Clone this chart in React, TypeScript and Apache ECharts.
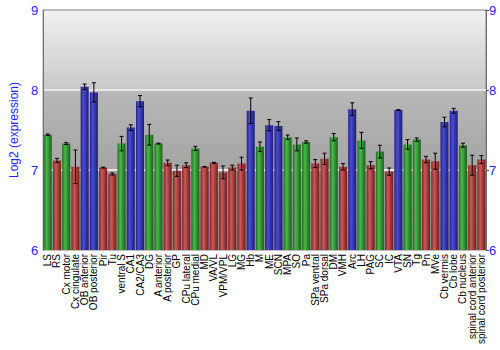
import React, { useEffect, useRef } from "react";
import * as echarts from "echarts";

const categories = [
  "LS", "RS", "Cx motor", "Cx cingulate", "OB anterior", "OB posterior", "Pir", "Tu",
  "ventral S", "CA1", "CA2/CA3", "DG", "A anterior", "A posterior", "GP", "CPu lateral",
  "CPu medial", "MD", "VA/VL", "VPM/VPL", "LG", "MG", "Hb", "M", "ME", "SCN", "MPA",
  "SO", "Pa", "SPa ventral", "SPa dorsal", "DM", "VMH", "Arc", "LH", "PAG", "SC", "IC",
  "VTA", "SN", "Tg", "Pn", "MVe", "Cb vermis", "Cb lobe", "Cb nucleus",
  "spinal cord anterior", "spinal cord posterior",
];

const values = [
  7.44, 7.12, 7.33, 7.04, 8.04, 7.97, 7.03, 6.95,
  7.33, 7.53, 7.86, 7.44, 7.33, 7.09, 6.99, 7.06,
  7.27, 7.04, 7.09, 6.97, 7.03, 7.08, 7.74, 7.29, 7.56, 7.55, 7.41,
  7.32, 7.35, 7.08, 7.14, 7.41, 7.04, 7.76, 7.37, 7.06, 7.23, 6.98,
  7.75, 7.32, 7.38, 7.13, 7.11, 7.60, 7.74, 7.31,
  7.06, 7.13,
];

const errors = [
  0.01, 0.025, 0.012, 0.21, 0.035, 0.12, 0.005, 0.012,
  0.09, 0.035, 0.07, 0.13, 0.006, 0.035, 0.07, 0.03,
  0.025, 0.004, 0.006, 0.08, 0.03, 0.08, 0.16, 0.06, 0.07, 0.055, 0.027,
  0.08, 0.015, 0.05, 0.07, 0.045, 0.04, 0.08, 0.1, 0.045, 0.08, 0.045,
  0.005, 0.06, 0.02, 0.04, 0.1, 0.06, 0.03, 0.025,
  0.125, 0.05,
];

// g = green, r = red, b = blue
const groups = [
  "g", "r", "g", "r", "b", "b", "r", "r",
  "g", "b", "b", "g", "g", "r", "r", "r",
  "g", "r", "r", "r", "r", "r", "b", "g", "b", "b", "g",
  "g", "g", "r", "r", "g", "r", "b", "g", "r", "g", "r",
  "b", "g", "g", "r", "r", "b", "b", "g",
  "r", "r",
];

const yTicks = [6, 7, 8, 9];

const palette: Record<string, [string, string, string]> = {
  g: ["#1c6e1c", "#4cb84c", "#1a601a"],
  r: ["#7e2222", "#cc5a5a", "#701c1c"],
  b: ["#20208a", "#4c4cd0", "#1c1c78"],
};

function barGrad(g: string) {
  const [d1, l, d2] = palette[g];
  return new echarts.graphic.LinearGradient(0, 0, 1, 0, [
    { offset: 0, color: d1 },
    { offset: 0.35, color: l },
    { offset: 1, color: d2 },
  ]);
}

export default function App() {
  const ref = useRef<HTMLDivElement>(null);
  useEffect(() => {
    if (!ref.current) return;
    const chart = echarts.init(ref.current, undefined, { renderer: "svg" });
    const blue = "#2424ff";
    chart.setOption({
      animation: false,
      textStyle: { fontFamily: "Liberation Sans, Arial, sans-serif" },
      grid: {
        left: 27,
        right: 14,
        top: 10,
        bottom: 100,
        show: true,
        borderColor: "#808080",
        borderWidth: 1,
        backgroundColor: new echarts.graphic.LinearGradient(0, 0, 0, 1, [
          { offset: 0, color: "#f2f2f2" },
          { offset: 0.333, color: "#c8c8c8" },
          { offset: 0.334, color: "#b8b8b8" },
          { offset: 0.666, color: "#a4a4a4" },
          { offset: 0.667, color: "#9c9c9c" },
          { offset: 1, color: "#8a8a8a" },
        ]),
      },
      xAxis: {
        type: "category",
        data: categories,
        axisLine: { show: false },
        axisTick: { show: false },
        axisLabel: {
          rotate: 90,
          interval: 0,
          fontSize: 10,
          color: "#000",
          margin: 4,
        },
      },
      yAxis: [
        {
          type: "value",
          min: yTicks[0],
          max: yTicks[yTicks.length - 1],
          interval: 1,
          position: "left",
          name: "Log2 (expression)",
          nameLocation: "middle",
          nameGap: 11,
          nameTextStyle: { color: blue, fontSize: 12 },
          axisLine: { show: true, lineStyle: { color: "#707070" } },
          axisTick: { show: false },
          axisLabel: { color: blue, fontSize: 13, margin: 5 },
          splitLine: {
            show: true,
            showMinLine: false,
            showMaxLine: false,
            lineStyle: { color: "#e6e6e6", width: 2 },
          },
        },
        {
          type: "value",
          min: yTicks[0],
          max: yTicks[yTicks.length - 1],
          interval: 1,
          position: "right",
          axisLine: { show: true, lineStyle: { color: "#707070" } },
          axisTick: { show: true, length: 3, lineStyle: { color: "#505050" } },
          axisLabel: { color: blue, fontSize: 13, margin: 3 },
          splitLine: { show: false },
        },
      ],
      series: [
        {
          type: "bar",
          barWidth: "87%",
          data: values.map((v, i) => ({
            value: v,
            itemStyle: { color: barGrad(groups[i]) },
          })),
        },
        {
          type: "custom",
          data: values.map((v, i) => [i, v, errors[i]]),
          z: 5,
          renderItem: (params: any, api: any) => {
            const x = api.value(0);
            const v = api.value(1);
            const e = api.value(2);
            const top = api.coord([x, v + e]);
            const bot = api.coord([x, v - e]);
            const hw = 2;
            const st = { stroke: "#000", lineWidth: 1 };
            return {
              type: "group",
              children: [
                { type: "line", shape: { x1: top[0], y1: top[1], x2: bot[0], y2: bot[1] }, style: st },
                { type: "line", shape: { x1: top[0] - hw, y1: top[1], x2: top[0] + hw, y2: top[1] }, style: st },
                { type: "line", shape: { x1: bot[0] - hw, y1: bot[1], x2: bot[0] + hw, y2: bot[1] }, style: st },
              ],
            };
          },
        },
      ],
    });
    return () => chart.dispose();
  }, []);
  return <div ref={ref} style={{ width: 500, height: 350, position: "absolute", left: 0, top: 0 }} />;
}
